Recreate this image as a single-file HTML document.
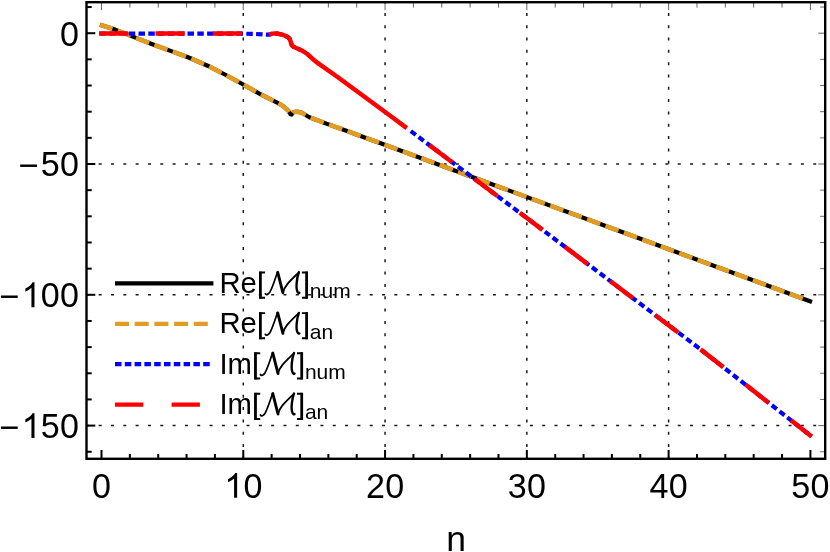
<!DOCTYPE html>
<html><head><meta charset="utf-8"><title>plot</title>
<style>html,body{margin:0;padding:0;background:#fff;}body{width:830px;height:552px;position:relative;overflow:hidden;font-family:"Liberation Sans",sans-serif;}</style>
</head><body>
<svg width="830" height="552" viewBox="0 0 830 552" style="position:absolute;left:0;top:0;will-change:transform">
<rect width="830" height="552" fill="#fff"/>
<g stroke="#1a1a1a" stroke-width="1.5" stroke-dasharray="3.0 9.32" fill="none"><line x1="86.35" y1="164.00" x2="825.2" y2="164.00"/><line x1="86.35" y1="294.80" x2="825.2" y2="294.80"/><line x1="86.35" y1="425.60" x2="825.2" y2="425.60"/><line x1="243.28" y1="459.4" x2="243.28" y2="2.2"/><line x1="385.06" y1="459.4" x2="385.06" y2="2.2"/><line x1="526.84" y1="459.4" x2="526.84" y2="2.2"/><line x1="668.62" y1="459.4" x2="668.62" y2="2.2"/></g>
<g fill="none" stroke-width="4.2" stroke-linejoin="round">
<path d="M100.00,24.80 L115.10,29.60 L133.40,36.90 L151.70,44.00 L170.60,50.90 L188.70,57.50 L207.60,65.70 L224.90,74.50 L242.30,84.00 L259.30,93.60 L276.60,102.30 L283.40,106.20 L288.20,110.60 L290.60,114.30 L291.60,114.60 L293.00,112.60 L295.50,111.80 L298.50,111.90 L301.70,112.80 L309.40,117.20 L327.70,124.10 L347.00,131.00 L365.30,137.70 L382.70,144.00 L399.00,150.00 L500.00,187.20 L620.00,231.25 L812.00,302.00" stroke="#000"/>
<path d="M100.00,24.80 L115.10,29.60 L133.40,36.90 L151.70,44.00 L170.60,50.90 L188.70,57.50 L207.60,65.70 L224.90,74.50 L242.30,84.00 L259.30,93.60 L276.60,102.30 L283.40,106.20 L288.20,110.60 L290.60,114.30 L291.60,114.60 L293.00,112.60 L295.50,111.80 L298.50,111.90 L301.70,112.80 L309.40,117.20 L327.70,124.10 L347.00,131.00 L365.30,137.70 L382.70,144.00 L399.00,150.00 L500.00,187.20 L620.00,231.25 L806.00,299.79" stroke="#e19c24" stroke-width="4.6" stroke-dasharray="14 5.63" stroke-dashoffset="0.9"/>
<path d="M99.30,33.50 L240.00,33.60 L255.00,33.90 L263.00,34.50 L268.90,34.70 L271.50,33.90 L274.50,33.40 L277.50,33.60 L280.30,34.20 L283.30,35.00 L286.10,36.10 L288.20,37.40 L289.70,38.90 L290.70,41.90 L291.30,43.90 L292.20,45.60 L293.60,46.80 L295.70,47.80 L299.00,49.20 L300.00,49.66" stroke="#0000ff" stroke-dasharray="6.5 3.3"/>
<path d="M408.30,129.26 L439.50,152.70 L500.00,198.00 L529.50,220.00 L630.00,296.00 L700.90,349.60 L811.60,436.50" stroke="#0000ff" stroke-dasharray="6.3 3.555" stroke-dashoffset="6.755"/>
<path d="M99.30,33.50 L128.20,33.52" stroke="#ff0000" stroke-width="4.5"/>
<path d="M155.50,33.54 L184.80,33.56" stroke="#ff0000" stroke-width="4.5"/>
<path d="M212.80,33.58 L240.00,33.60 L242.30,33.65" stroke="#ff0000" stroke-width="4.5"/>
<path d="M269.00,34.67 L271.50,33.90 L274.50,33.40 L277.50,33.60 L280.30,34.20 L283.30,35.00 L286.10,36.10 L288.20,37.40 L289.70,38.90 L290.70,41.90 L291.30,43.90 L292.20,45.60 L293.60,46.80 L295.70,47.80 L299.00,49.20 L302.50,50.80 L307.30,54.00 L312.10,58.40 L317.90,63.20 L336.20,76.00 L361.70,94.70 L392.25,117.20 L406.80,128.13" stroke="#ff0000" stroke-width="4.5"/>
<path d="M429.40,145.11 L439.50,152.70 L452.20,162.21" stroke="#ff0000" stroke-width="4.5"/>
<path d="M474.60,178.98 L497.40,196.05" stroke="#ff0000" stroke-width="4.5"/>
<path d="M519.80,212.77 L529.50,220.00 L542.60,229.91" stroke="#ff0000" stroke-width="4.5"/>
<path d="M565.00,246.85 L587.80,264.09" stroke="#ff0000" stroke-width="4.5"/>
<path d="M610.20,281.03 L630.00,296.00 L633.00,298.27" stroke="#ff0000" stroke-width="4.5"/>
<path d="M655.40,315.20 L678.20,332.44" stroke="#ff0000" stroke-width="4.5"/>
<path d="M700.60,349.37 L700.90,349.60 L723.40,367.26" stroke="#ff0000" stroke-width="4.5"/>
<path d="M745.80,384.85 L768.60,402.74" stroke="#ff0000" stroke-width="4.5"/>
<path d="M791.00,420.33 L811.60,436.50" stroke="#ff0000" stroke-width="4.5"/>
</g>
<g stroke="#000" stroke-width="2" fill="none"><line x1="86.5" y1="7.04" x2="91.7" y2="7.04"/><line x1="86.5" y1="33.20" x2="95.3" y2="33.20"/><line x1="86.5" y1="59.36" x2="91.7" y2="59.36"/><line x1="86.5" y1="85.52" x2="91.7" y2="85.52"/><line x1="86.5" y1="111.68" x2="91.7" y2="111.68"/><line x1="86.5" y1="137.84" x2="91.7" y2="137.84"/><line x1="86.5" y1="164.00" x2="95.3" y2="164.00"/><line x1="86.5" y1="190.16" x2="91.7" y2="190.16"/><line x1="86.5" y1="216.32" x2="91.7" y2="216.32"/><line x1="86.5" y1="242.48" x2="91.7" y2="242.48"/><line x1="86.5" y1="268.64" x2="91.7" y2="268.64"/><line x1="86.5" y1="294.80" x2="95.3" y2="294.80"/><line x1="86.5" y1="320.96" x2="91.7" y2="320.96"/><line x1="86.5" y1="347.12" x2="91.7" y2="347.12"/><line x1="86.5" y1="373.28" x2="91.7" y2="373.28"/><line x1="86.5" y1="399.44" x2="91.7" y2="399.44"/><line x1="86.5" y1="425.60" x2="95.3" y2="425.60"/><line x1="86.5" y1="451.76" x2="91.7" y2="451.76"/><line x1="101.50" y1="458.8" x2="101.50" y2="450.0"/><line x1="129.86" y1="458.8" x2="129.86" y2="454.0"/><line x1="158.21" y1="458.8" x2="158.21" y2="454.0"/><line x1="186.57" y1="458.8" x2="186.57" y2="454.0"/><line x1="214.92" y1="458.8" x2="214.92" y2="454.0"/><line x1="243.28" y1="458.8" x2="243.28" y2="450.0"/><line x1="271.64" y1="458.8" x2="271.64" y2="454.0"/><line x1="299.99" y1="458.8" x2="299.99" y2="454.0"/><line x1="328.35" y1="458.8" x2="328.35" y2="454.0"/><line x1="356.70" y1="458.8" x2="356.70" y2="454.0"/><line x1="385.06" y1="458.8" x2="385.06" y2="450.0"/><line x1="413.42" y1="458.8" x2="413.42" y2="454.0"/><line x1="441.77" y1="458.8" x2="441.77" y2="454.0"/><line x1="470.13" y1="458.8" x2="470.13" y2="454.0"/><line x1="498.48" y1="458.8" x2="498.48" y2="454.0"/><line x1="526.84" y1="458.8" x2="526.84" y2="450.0"/><line x1="555.20" y1="458.8" x2="555.20" y2="454.0"/><line x1="583.55" y1="458.8" x2="583.55" y2="454.0"/><line x1="611.91" y1="458.8" x2="611.91" y2="454.0"/><line x1="640.26" y1="458.8" x2="640.26" y2="454.0"/><line x1="668.62" y1="458.8" x2="668.62" y2="450.0"/><line x1="696.98" y1="458.8" x2="696.98" y2="454.0"/><line x1="725.33" y1="458.8" x2="725.33" y2="454.0"/><line x1="753.69" y1="458.8" x2="753.69" y2="454.0"/><line x1="782.04" y1="458.8" x2="782.04" y2="454.0"/><line x1="810.40" y1="458.8" x2="810.40" y2="450.0"/></g>
<g stroke="#555" stroke-width="0.9" fill="none"><line x1="825.2" y1="7.04" x2="820.2" y2="7.04"/><line x1="825.2" y1="33.20" x2="818.2" y2="33.20"/><line x1="825.2" y1="59.36" x2="820.2" y2="59.36"/><line x1="825.2" y1="85.52" x2="820.2" y2="85.52"/><line x1="825.2" y1="111.68" x2="820.2" y2="111.68"/><line x1="825.2" y1="137.84" x2="820.2" y2="137.84"/><line x1="825.2" y1="164.00" x2="818.2" y2="164.00"/><line x1="825.2" y1="190.16" x2="820.2" y2="190.16"/><line x1="825.2" y1="216.32" x2="820.2" y2="216.32"/><line x1="825.2" y1="242.48" x2="820.2" y2="242.48"/><line x1="825.2" y1="268.64" x2="820.2" y2="268.64"/><line x1="825.2" y1="294.80" x2="818.2" y2="294.80"/><line x1="825.2" y1="320.96" x2="820.2" y2="320.96"/><line x1="825.2" y1="347.12" x2="820.2" y2="347.12"/><line x1="825.2" y1="373.28" x2="820.2" y2="373.28"/><line x1="825.2" y1="399.44" x2="820.2" y2="399.44"/><line x1="825.2" y1="425.60" x2="818.2" y2="425.60"/><line x1="825.2" y1="451.76" x2="820.2" y2="451.76"/><line x1="101.50" y1="2.2" x2="101.50" y2="10.100000000000001"/><line x1="129.86" y1="2.2" x2="129.86" y2="7.6000000000000005"/><line x1="158.21" y1="2.2" x2="158.21" y2="7.6000000000000005"/><line x1="186.57" y1="2.2" x2="186.57" y2="7.6000000000000005"/><line x1="214.92" y1="2.2" x2="214.92" y2="7.6000000000000005"/><line x1="243.28" y1="2.2" x2="243.28" y2="10.100000000000001"/><line x1="271.64" y1="2.2" x2="271.64" y2="7.6000000000000005"/><line x1="299.99" y1="2.2" x2="299.99" y2="7.6000000000000005"/><line x1="328.35" y1="2.2" x2="328.35" y2="7.6000000000000005"/><line x1="356.70" y1="2.2" x2="356.70" y2="7.6000000000000005"/><line x1="385.06" y1="2.2" x2="385.06" y2="10.100000000000001"/><line x1="413.42" y1="2.2" x2="413.42" y2="7.6000000000000005"/><line x1="441.77" y1="2.2" x2="441.77" y2="7.6000000000000005"/><line x1="470.13" y1="2.2" x2="470.13" y2="7.6000000000000005"/><line x1="498.48" y1="2.2" x2="498.48" y2="7.6000000000000005"/><line x1="526.84" y1="2.2" x2="526.84" y2="10.100000000000001"/><line x1="555.20" y1="2.2" x2="555.20" y2="7.6000000000000005"/><line x1="583.55" y1="2.2" x2="583.55" y2="7.6000000000000005"/><line x1="611.91" y1="2.2" x2="611.91" y2="7.6000000000000005"/><line x1="640.26" y1="2.2" x2="640.26" y2="7.6000000000000005"/><line x1="668.62" y1="2.2" x2="668.62" y2="10.100000000000001"/><line x1="696.98" y1="2.2" x2="696.98" y2="7.6000000000000005"/><line x1="725.33" y1="2.2" x2="725.33" y2="7.6000000000000005"/><line x1="753.69" y1="2.2" x2="753.69" y2="7.6000000000000005"/><line x1="782.04" y1="2.2" x2="782.04" y2="7.6000000000000005"/><line x1="810.40" y1="2.2" x2="810.40" y2="10.100000000000001"/></g>
<rect x="86.5" y="2.2" width="738.7" height="456.6" fill="none" stroke="#000" stroke-width="2.4"/>
<g font-family="Liberation Sans, sans-serif" font-size="34.6" fill="#000">
<text transform="translate(60.06,45.60) scale(0.985,1.015)">0</text>
<text x="18.22" y="177.40">−</text><text transform="translate(40.82,176.40) scale(0.985,1.015)">5</text><text transform="translate(60.06,176.40) scale(0.985,1.015)">0</text>
<text x="-1.02" y="308.20">−</text><path transform="translate(21.59,307.20) scale(0.01689)" d="M763,0 L583,0 L583,-1147 Q518,-1085 412.5,-1023 Q307,-961 223,-930 L223,-1104 Q374,-1175 487,-1276 Q600,-1377 647,-1472 L763,-1472 Z"/><text transform="translate(40.82,307.20) scale(0.985,1.015)">0</text><text transform="translate(60.06,307.20) scale(0.985,1.015)">0</text>
<text x="-1.02" y="439.00">−</text><path transform="translate(21.59,438.00) scale(0.01689)" d="M763,0 L583,0 L583,-1147 Q518,-1085 412.5,-1023 Q307,-961 223,-930 L223,-1104 Q374,-1175 487,-1276 Q600,-1377 647,-1472 L763,-1472 Z"/><text transform="translate(40.82,438.00) scale(0.985,1.015)">5</text><text transform="translate(60.06,438.00) scale(0.985,1.015)">0</text>
<text transform="translate(92.08,497.80) scale(0.985,1.015)">0</text>
<path transform="translate(224.24,497.80) scale(0.01689)" d="M763,0 L583,0 L583,-1147 Q518,-1085 412.5,-1023 Q307,-961 223,-930 L223,-1104 Q374,-1175 487,-1276 Q600,-1377 647,-1472 L763,-1472 Z"/><text transform="translate(243.48,497.80) scale(0.985,1.015)">0</text>
<text transform="translate(366.02,497.80) scale(0.985,1.015)">2</text><text transform="translate(385.26,497.80) scale(0.985,1.015)">0</text>
<text transform="translate(507.80,497.80) scale(0.985,1.015)">3</text><text transform="translate(527.04,497.80) scale(0.985,1.015)">0</text>
<text transform="translate(649.58,497.80) scale(0.985,1.015)">4</text><text transform="translate(668.82,497.80) scale(0.985,1.015)">0</text>
<text transform="translate(791.36,497.80) scale(0.985,1.015)">5</text><text transform="translate(810.60,497.80) scale(0.985,1.015)">0</text>
<text x="456.2" y="550.7" text-anchor="middle" font-size="35.5">n</text>
</g>
<g fill="none" stroke-width="4.2">
<line x1="115" y1="283.3" x2="213.4" y2="283.3" stroke="#000"/>
<line x1="115" y1="323.9" x2="213.4" y2="323.9" stroke="#e19c24" stroke-dasharray="14 5.7"/>
<line x1="115" y1="364.1" x2="212.9" y2="364.1" stroke="#0000ff" stroke-dasharray="6.5 3.3"/>
<line x1="115" y1="404.6" x2="213.4" y2="404.6" stroke="#ff0000" stroke-dasharray="28.3 28.3"/>
</g>
<g font-family="Liberation Sans, sans-serif" font-size="29.3" fill="#000">
<text x="219.4" y="292.70">Re</text>
<g transform="translate(258.8,292.70)" fill="none" stroke="#000" stroke-linecap="round" stroke-linejoin="round"><path d="M6.5,1.0 C7.4,2.7 9.7,1.7 11.2,-0.8 C13.7,-5.3 16.2,-13.3 18.6,-20.5" stroke-width="1.7"/><path d="M18.9,-20.4 L24.1,0.0" stroke-width="2.9"/><path d="M24.1,0.0 C25.6,-7.0 31.5,-12.0 40.1,-20.4" stroke-width="1.8"/><path d="M40.1,-20.4 C38,-15.3 36.8,-4.3 38.7,-1 C39.3,0.2 40.0,0.6 40.6,0.1" stroke-width="2.4"/><path d="M6.3,-20.2 H1.55 V5.0 H6.3" stroke-width="1.9" stroke-linecap="butt" stroke-linejoin="miter"/><path d="M43.1,-20.2 H47.85 V5.0 H43.1" stroke-width="1.9" stroke-linecap="butt" stroke-linejoin="miter"/><path d="M1.55,-21.15 V5.95" stroke-width="2.7" stroke-linecap="butt"/><path d="M47.85,-21.15 V5.95" stroke-width="2.7" stroke-linecap="butt"/></g>
<text x="309.80" y="298.00" font-size="21.0">num</text>
<text x="219.4" y="333.30">Re</text>
<g transform="translate(258.8,333.30)" fill="none" stroke="#000" stroke-linecap="round" stroke-linejoin="round"><path d="M6.5,1.0 C7.4,2.7 9.7,1.7 11.2,-0.8 C13.7,-5.3 16.2,-13.3 18.6,-20.5" stroke-width="1.7"/><path d="M18.9,-20.4 L24.1,0.0" stroke-width="2.9"/><path d="M24.1,0.0 C25.6,-7.0 31.5,-12.0 40.1,-20.4" stroke-width="1.8"/><path d="M40.1,-20.4 C38,-15.3 36.8,-4.3 38.7,-1 C39.3,0.2 40.0,0.6 40.6,0.1" stroke-width="2.4"/><path d="M6.3,-20.2 H1.55 V5.0 H6.3" stroke-width="1.9" stroke-linecap="butt" stroke-linejoin="miter"/><path d="M43.1,-20.2 H47.85 V5.0 H43.1" stroke-width="1.9" stroke-linecap="butt" stroke-linejoin="miter"/><path d="M1.55,-21.15 V5.95" stroke-width="2.7" stroke-linecap="butt"/><path d="M47.85,-21.15 V5.95" stroke-width="2.7" stroke-linecap="butt"/></g>
<text x="309.80" y="338.60" font-size="21.0">an</text>
<text x="219.4" y="373.50">Im</text>
<g transform="translate(253.9,373.50)" fill="none" stroke="#000" stroke-linecap="round" stroke-linejoin="round"><path d="M6.5,1.0 C7.4,2.7 9.7,1.7 11.2,-0.8 C13.7,-5.3 16.2,-13.3 18.6,-20.5" stroke-width="1.7"/><path d="M18.9,-20.4 L24.1,0.0" stroke-width="2.9"/><path d="M24.1,0.0 C25.6,-7.0 31.5,-12.0 40.1,-20.4" stroke-width="1.8"/><path d="M40.1,-20.4 C38,-15.3 36.8,-4.3 38.7,-1 C39.3,0.2 40.0,0.6 40.6,0.1" stroke-width="2.4"/><path d="M6.3,-20.2 H1.55 V5.0 H6.3" stroke-width="1.9" stroke-linecap="butt" stroke-linejoin="miter"/><path d="M43.1,-20.2 H47.85 V5.0 H43.1" stroke-width="1.9" stroke-linecap="butt" stroke-linejoin="miter"/><path d="M1.55,-21.15 V5.95" stroke-width="2.7" stroke-linecap="butt"/><path d="M47.85,-21.15 V5.95" stroke-width="2.7" stroke-linecap="butt"/></g>
<text x="304.90" y="378.80" font-size="21.0">num</text>
<text x="219.4" y="414.00">Im</text>
<g transform="translate(253.9,414.00)" fill="none" stroke="#000" stroke-linecap="round" stroke-linejoin="round"><path d="M6.5,1.0 C7.4,2.7 9.7,1.7 11.2,-0.8 C13.7,-5.3 16.2,-13.3 18.6,-20.5" stroke-width="1.7"/><path d="M18.9,-20.4 L24.1,0.0" stroke-width="2.9"/><path d="M24.1,0.0 C25.6,-7.0 31.5,-12.0 40.1,-20.4" stroke-width="1.8"/><path d="M40.1,-20.4 C38,-15.3 36.8,-4.3 38.7,-1 C39.3,0.2 40.0,0.6 40.6,0.1" stroke-width="2.4"/><path d="M6.3,-20.2 H1.55 V5.0 H6.3" stroke-width="1.9" stroke-linecap="butt" stroke-linejoin="miter"/><path d="M43.1,-20.2 H47.85 V5.0 H43.1" stroke-width="1.9" stroke-linecap="butt" stroke-linejoin="miter"/><path d="M1.55,-21.15 V5.95" stroke-width="2.7" stroke-linecap="butt"/><path d="M47.85,-21.15 V5.95" stroke-width="2.7" stroke-linecap="butt"/></g>
<text x="304.90" y="419.30" font-size="21.0">an</text>
</g>
</svg>
</body></html>
